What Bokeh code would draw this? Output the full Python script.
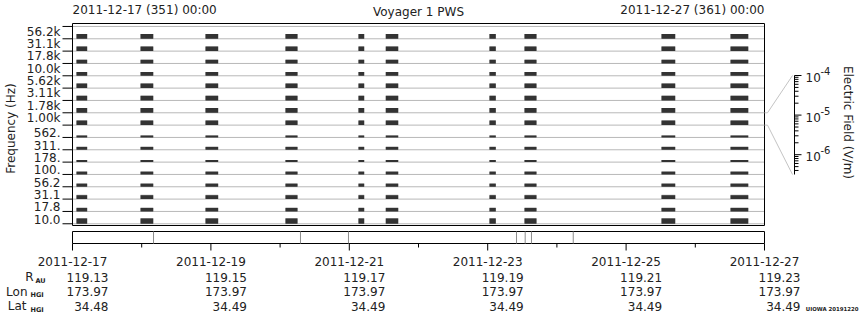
import math
from datetime import datetime
from bokeh.plotting import figure
from bokeh.models import Range1d
from bokeh.core.properties import value
from bokeh.embed import file_html
from bokeh.resources import INLINE

FONT = "DejaVu Sans"
TXT = "#222222"
BAR = "#333333"

# ---------------- data ----------------
t_start = "2011-12-17 00:00"
t_end = "2011-12-27 00:00"
header_left = "2011-12-17 (351) 00:00"
header_right = "2011-12-27 (361) 00:00"
title_text = "Voyager 1 PWS"

# frequency channels, bottom to top
channel_labels = ["10.0", "17.8", "31.1", "56.2", "100.", "178.", "311.", "562.",
                  "1.00k", "1.78k", "3.11k", "5.62k", "10.0k", "17.8k", "31.1k", "56.2k"]
# electric field level (V/m) of each channel while data is present
channel_field = [3.8e-6, 1.5e-6, 2.0e-6, 1.3e-6, 1.1e-6, 8.0e-7, 1.1e-6, 8.0e-7,
                 2.8e-6, 2.8e-6, 2.8e-6, 2.8e-6, 1.8e-6, 1.8e-6, 2.8e-6, 2.8e-6]
# peak level (V/m), drawn in light gray behind
channel_peak = [4.6e-6, 1.9e-6, 2.4e-6, 1.7e-6, 1.4e-6, 8.0e-7, 1.45e-6, 8.0e-7,
                2.8e-6, 2.8e-6, 2.8e-6, 2.8e-6, 1.8e-6, 1.8e-6, 2.8e-6, 2.8e-6]

interval_start = ["2011-12-17 01:23", "2011-12-17 23:36", "2011-12-18 22:08", "2011-12-20 01:52",
                  "2011-12-21 03:11", "2011-12-21 12:39", "2011-12-23 00:37", "2011-12-23 12:46",
                  "2011-12-25 12:17", "2011-12-26 12:13"]
interval_end = ["2011-12-17 05:05", "2011-12-18 04:00", "2011-12-19 02:31", "2011-12-20 06:02",
                "2011-12-21 05:10", "2011-12-21 16:58", "2011-12-23 02:48", "2011-12-23 16:55",
                "2011-12-25 17:02", "2011-12-26 18:22"]

marker_times = ["2011-12-18 04:06", "2011-12-20 07:04", "2011-12-20 23:43", "2011-12-23 09:59",
                "2011-12-23 13:00", "2011-12-23 15:11", "2011-12-24 05:40"]

eph_dates = ["2011-12-17", "2011-12-19", "2011-12-21", "2011-12-23", "2011-12-25", "2011-12-27"]
eph_r_au = [119.13, 119.15, 119.17, 119.19, 119.21, 119.23]
eph_lon = [173.97, 173.97, 173.97, 173.97, 173.97, 173.97]
eph_lat = [34.48, 34.49, 34.49, 34.49, 34.49, 34.49]
minor_dates = ["2011-12-18", "2011-12-20", "2011-12-22", "2011-12-24", "2011-12-26"]

FIELD_LO, FIELD_HI = -6.5, -4.0   # log10 of field scale spanned by one channel band
cbar_ticks = [-6, -5, -4]
cbar_base = ["10", "10", "10"]
cbar_exp = ["-6", "-5", "-4"]
stamp = "UIOWA 20191220"

# ---------------- helpers ----------------
EPOCH = datetime(1970, 1, 1)


def ms(s):
    fmt = "%Y-%m-%d %H:%M" if " " in s else "%Y-%m-%d"
    return (datetime.strptime(s, fmt) - EPOCH).total_seconds() * 1000.0


def frac(e):
    return (math.log10(e) - FIELD_LO) / (FIELD_HI - FIELD_LO)


W, H = 860, 320
# layout (pixels of the page)
F_L, F_R, F_T, F_B = 72, 764, 23, 225          # main panel frame
Y0, Y1 = -0.14, 16.24                           # channel-index span of main frame
C_T, C_B, C_X = 75, 174, 794                    # colour scale
S_T, S_B = 231, 243                             # time strip

T0, T1 = ms(t_start), ms(t_end)
MSPX = (T1 - T0) / (F_R - F_L)


def xp(px):
    return T0 + (px - F_L) * MSPX


S = (F_B - F_T) / (Y1 - Y0)
FS = (C_B - C_T) / (FIELD_HI - FIELD_LO)
SS = float(S_B - S_T)


def cy(px):       # page pixel -> channel units
    return Y1 - (px - F_T) / S


def fy(px):       # page pixel -> field exponent units
    return FIELD_HI - (px - C_T) / FS


def sy(px):       # page pixel -> strip units
    return (S_B - px) / SS


def cpx(y):
    return F_T + (Y1 - y) * S


p = figure(width=W, height=H, x_range=Range1d(xp(0), xp(W)), y_range=Range1d(cy(H), cy(0)),
           output_backend="svg", toolbar_location=None,
           x_axis_location=None, y_axis_location=None,
           min_border_left=0, min_border_right=0, min_border_top=0, min_border_bottom=0)
p.extra_y_ranges = {"field": Range1d(fy(H), fy(0)), "strip": Range1d(sy(H), sy(0))}
p.outline_line_color = None
p.xgrid.grid_line_color = None
p.ygrid.grid_line_color = None
p.background_fill_color = "white"
p.border_fill_color = "white"


def txt(x, y, t, align="left", base="middle", size="12px", style="normal", angle=0.0,
        xoff=0, rng="default"):
    p.text(x=x, y=y, text=t, text_align=align, text_baseline=base, angle=angle,
           text_font=value(FONT), text_font_size=value(size), text_font_style=style,
           text_color=TXT, x_offset=xoff, y_range_name=rng)


# ---------------- main panel ----------------
lines_y = list(range(17))
p.segment(x0=[T0] * 17, x1=[T1] * 17, y0=lines_y, y1=lines_y, line_color="#b8b8b8", line_width=1)

ql, qr, qb, qt, pt = [], [], [], [], []
for s, e in zip(interval_start, interval_end):
    for i in range(16):
        ql.append(ms(s))
        qr.append(ms(e))
        qb.append(i)
        qt.append(i + frac(channel_field[i]))
        pt.append(i + frac(channel_peak[i]))
p.quad(left=ql, right=qr, bottom=qb, top=pt, fill_color="#a8a8a8", line_color=None)
p.quad(left=ql, right=qr, bottom=qb, top=qt, fill_color=BAR, line_color=None)

p.quad(left=[T0], right=[T1], bottom=[Y0], top=[Y1], fill_color=None, line_color="black", line_width=1)

# frequency axis
p.segment(x0=[xp(F_L - 10)] * 17, x1=[T0] * 17, y0=lines_y, y1=lines_y, line_color="black", line_width=1)
txt([T0] * 16, list(range(16)), channel_labels, align="right", base="bottom", xoff=-12)
txt([xp(10)], [cy(128)], ["Frequency (Hz)"], align="center", angle=math.pi / 2)

# header
txt([T0], [cy(9)], [header_left], align="left")
txt([T1], [cy(9)], [header_right], align="right")
txt([(T0 + T1) / 2], [cy(11)], [title_text], align="center")

# ---------------- colour scale ----------------
band = channel_labels.index("1.00k")
e_top = fy(cpx(band + 1))
e_bot = fy(cpx(band))
p.multi_line(xs=[[T1, xp(767), xp(C_X - 2)], [T1, xp(767), xp(C_X - 2)]],
             ys=[[e_top, e_top, FIELD_HI], [e_bot, e_bot, FIELD_LO]],
             line_color="#c4c4c4", line_width=1, y_range_name="field")
p.segment(x0=[xp(C_X)], x1=[xp(C_X)], y0=[FIELD_LO], y1=[FIELD_HI], line_color="black",
          line_width=1, y_range_name="field")
minor = []
for n in range(-7, -3):
    for k in range(2, 10):
        v = n + math.log10(k)
        if FIELD_LO <= v <= FIELD_HI:
            minor.append(v)
p.segment(x0=[xp(C_X)] * len(minor), x1=[xp(C_X + 4)] * len(minor), y0=minor, y1=minor,
          line_color="black", line_width=1, y_range_name="field")
p.segment(x0=[xp(C_X)] * 3, x1=[xp(C_X + 7)] * 3, y0=cbar_ticks, y1=cbar_ticks,
          line_color="black", line_width=1, y_range_name="field")
raise_px = 4.5
txt([xp(C_X + 11)] * 3, [t - 2.0 / FS for t in cbar_ticks], cbar_base, align="left",
    size="12px", rng="field")
txt([xp(C_X + 26)] * 3, [t + raise_px / FS for t in cbar_ticks], cbar_exp, align="left",
    size="10px", rng="field")
txt([xp(847)], [fy(122)], ["Electric Field (V/m)"], align="center", angle=-math.pi / 2, rng="field")

# ---------------- time strip ----------------
p.quad(left=[T0], right=[T1], bottom=[0], top=[1], fill_color=None, line_color="black",
       line_width=1, y_range_name="strip")
mt = [ms(t) for t in marker_times]
p.segment(x0=mt, x1=mt, y0=[0] * len(mt), y1=[1] * len(mt), line_color="#8c8c8c",
          line_width=1, y_range_name="strip")
maj = [ms(d) for d in eph_dates]
mnr = [ms(d) for d in minor_dates]
p.segment(x0=maj, x1=maj, y0=[0] * len(maj), y1=[sy(S_B + 7)] * len(maj), line_color="black",
          line_width=1, y_range_name="strip")
p.segment(x0=mnr, x1=mnr, y0=[0] * len(mnr), y1=[sy(S_B + 4)] * len(mnr), line_color="black",
          line_width=1, y_range_name="strip")
txt(maj, [sy(261)] * len(maj), eph_dates, align="center", rng="strip")

rows = [(eph_r_au, 276.5, "R", "AU", 33, 35),
        (eph_lon, 291.0, "Lon", "HGI", 27, 30),
        (eph_lat, 305.5, "Lat", "HGI", 26, 30)]
for vals, ypx, name, sub, nx, sx in rows:
    txt(maj, [sy(ypx)] * len(maj), ["%.2f" % v for v in vals], align="right", xoff=36, rng="strip")
    txt([xp(nx)], [sy(ypx)], [name], align="right", rng="strip")
    txt([xp(sx)], [sy(ypx + 3.5)], [sub], align="left", size="6.5px", style="bold", rng="strip")

txt([xp(858)], [sy(308)], [stamp], align="right", size="5.4px", style="bold", rng="strip")

open("out.html", "w").write(file_html(p, INLINE))
